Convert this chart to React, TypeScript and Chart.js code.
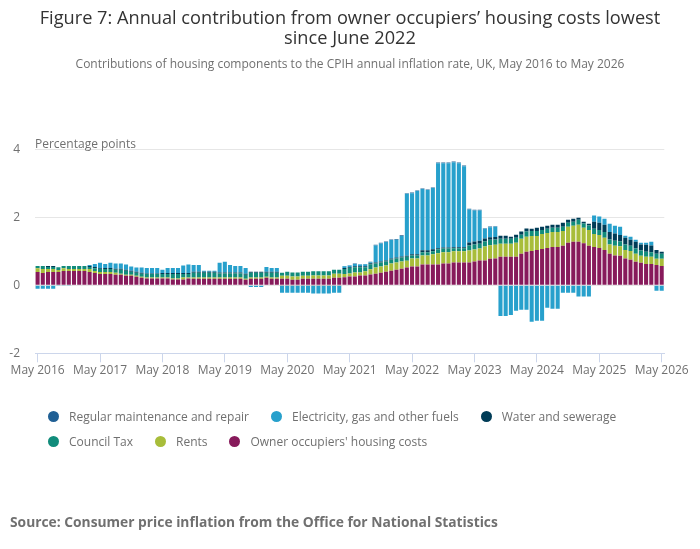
import { useEffect, useRef } from 'react';
import Chart from 'chart.js/auto';

// Months May 2016 to May 2026
const MONTH_NAMES = ['Jan', 'Feb', 'Mar', 'Apr', 'May', 'Jun', 'Jul', 'Aug', 'Sep', 'Oct', 'Nov', 'Dec'];
const START_YEAR = 2016;
const START_MONTH = 4; // May
const MONTH_COUNT = 121;
const CATEGORIES: string[] = [];
for (let i = 0; i < MONTH_COUNT; i++) {
  const m = (START_MONTH + i) % 12;
  const y = START_YEAR + Math.floor((START_MONTH + i) / 12);
  CATEGORIES.push(`${MONTH_NAMES[m]} ${y}`);
}

const Y_TICKS = [-2, 0, 2, 4];

// Contributions, percentage points
const OOH = [
  0.39, 0.36, 0.39, 0.39, 0.39, 0.42, 0.42, 0.42, 0.42, 0.42, 0.39, 0.36,
  0.33, 0.33, 0.33, 0.31, 0.31, 0.28, 0.28, 0.25, 0.22, 0.20, 0.20, 0.20,
  0.20, 0.20, 0.17, 0.17, 0.17, 0.20, 0.19, 0.19, 0.19, 0.19, 0.19, 0.19,
  0.19, 0.19, 0.19, 0.19, 0.16, 0.19, 0.19, 0.19, 0.22, 0.19, 0.19, 0.19,
  0.19, 0.16, 0.16, 0.19, 0.19, 0.19, 0.19, 0.19, 0.19, 0.22, 0.22, 0.24,
  0.26, 0.26, 0.29, 0.29, 0.32, 0.34, 0.37, 0.40, 0.43, 0.46, 0.49, 0.52,
  0.55, 0.55, 0.61, 0.61, 0.61, 0.61, 0.64, 0.64, 0.67, 0.67, 0.67, 0.67,
  0.70, 0.73, 0.73, 0.78, 0.79, 0.84, 0.84, 0.84, 0.84, 0.93, 0.99, 1.01,
  1.04, 1.07, 1.10, 1.13, 1.13, 1.16, 1.25, 1.28, 1.28, 1.24, 1.16, 1.13,
  1.10, 1.04, 0.93, 0.88, 0.87, 0.79, 0.75, 0.69, 0.66, 0.63, 0.63, 0.60,
  0.57
];

const RENTS = [
  0.11, 0.12, 0.09, 0.09, 0.06, 0.08, 0.06, 0.06, 0.06, 0.06, 0.09, 0.06,
  0.06, 0.06, 0.06, 0.06, 0.03, 0.03, 0.03, 0.03, 0.03, 0.03, 0.03, 0.03,
  0.03, 0.03, 0.03, 0.03, 0.06, 0.03, 0.04, 0.04, 0.04, 0.04, 0.04, 0.04,
  0.04, 0.04, 0.04, 0.04, 0.03, 0.04, 0.04, 0.04, 0.03, 0.04, 0.04, 0.09,
  0.09, 0.10, 0.10, 0.09, 0.09, 0.10, 0.10, 0.10, 0.10, 0.12, 0.12, 0.09,
  0.09, 0.12, 0.09, 0.12, 0.15, 0.18, 0.18, 0.18, 0.21, 0.21, 0.21, 0.20,
  0.24, 0.24, 0.27, 0.27, 0.30, 0.33, 0.33, 0.33, 0.33, 0.33, 0.33, 0.35,
  0.35, 0.35, 0.41, 0.40, 0.40, 0.38, 0.38, 0.38, 0.41, 0.44, 0.44, 0.44,
  0.41, 0.44, 0.44, 0.44, 0.44, 0.44, 0.47, 0.47, 0.50, 0.45, 0.47, 0.38,
  0.38, 0.36, 0.27, 0.28, 0.28, 0.25, 0.26, 0.24, 0.21, 0.21, 0.21, 0.18,
  0.21
];

const COUNCIL_TAX = [
  0.07, 0.09, 0.06, 0.06, 0.08, 0.07, 0.09, 0.09, 0.09, 0.09, 0.06, 0.08,
  0.09, 0.09, 0.09, 0.09, 0.12, 0.12, 0.09, 0.09, 0.09, 0.10, 0.10, 0.10,
  0.10, 0.10, 0.13, 0.13, 0.10, 0.10, 0.14, 0.14, 0.14, 0.14, 0.14, 0.12,
  0.12, 0.12, 0.12, 0.12, 0.12, 0.14, 0.14, 0.14, 0.12, 0.14, 0.14, 0.09,
  0.12, 0.12, 0.12, 0.12, 0.12, 0.12, 0.12, 0.12, 0.12, 0.12, 0.12, 0.15,
  0.16, 0.15, 0.15, 0.12, 0.15, 0.12, 0.12, 0.12, 0.12, 0.12, 0.12, 0.12,
  0.09, 0.09, 0.09, 0.09, 0.09, 0.12, 0.11, 0.11, 0.09, 0.09, 0.09, 0.15,
  0.15, 0.14, 0.15, 0.16, 0.16, 0.15, 0.15, 0.15, 0.15, 0.12, 0.15, 0.15,
  0.15, 0.12, 0.12, 0.12, 0.12, 0.12, 0.12, 0.12, 0.15, 0.13, 0.13, 0.15,
  0.15, 0.17, 0.15, 0.15, 0.14, 0.16, 0.15, 0.15, 0.15, 0.15, 0.13, 0.15,
  0.15
];

const WATER = [
  0.00, 0.00, 0.03, 0.03, 0.00, 0.00, 0.00, 0.00, 0.00, 0.00, 0.03, 0.04,
  0.02, 0.03, 0.03, 0.03, 0.03, 0.03, 0.03, 0.03, 0.03, 0.02, 0.02, 0.02,
  0.03, 0.03, 0.03, 0.03, 0.03, 0.03, 0.03, 0.03, 0.03, 0.03, 0.03, 0.03,
  0.03, 0.03, 0.03, 0.03, 0.03, 0.03, 0.03, 0.03, 0.03, 0.03, 0.03, -0.02,
  -0.02, -0.02, -0.02, -0.02, -0.02, -0.02, -0.02, -0.02, -0.02, -0.02, -0.02, 0.03,
  0.02, 0.03, 0.03, 0.03, 0.03, 0.03, 0.03, 0.03, 0.03, 0.03, 0.03, 0.03,
  0.03, 0.03, 0.06, 0.06, 0.06, 0.03, 0.03, 0.03, 0.03, 0.03, 0.03, 0.09,
  0.09, 0.09, 0.09, 0.07, 0.07, 0.09, 0.09, 0.06, 0.09, 0.09, 0.09, 0.06,
  0.09, 0.09, 0.09, 0.09, 0.09, 0.12, 0.09, 0.09, 0.06, 0.05, 0.05, 0.21,
  0.21, 0.21, 0.22, 0.21, 0.19, 0.20, 0.18, 0.20, 0.18, 0.20, 0.20, 0.11,
  0.06
];

const ENERGY = [
  -0.10, -0.10, -0.10, -0.10, -0.02, -0.02, -0.02, 0.00, 0.00, 0.00, 0.03, 0.09,
  0.16, 0.12, 0.15, 0.15, 0.15, 0.15, 0.12, 0.12, 0.15, 0.16, 0.16, 0.16,
  0.10, 0.15, 0.15, 0.15, 0.22, 0.25, 0.20, 0.20, 0.03, 0.03, 0.03, 0.28,
  0.31, 0.22, 0.19, 0.19, 0.17, -0.05, -0.05, -0.05, 0.14, 0.11, 0.11, -0.20,
  -0.20, -0.20, -0.20, -0.20, -0.20, -0.22, -0.22, -0.22, -0.22, -0.20, -0.20, 0.05,
  0.05, 0.07, 0.05, 0.06, 0.03, 0.50, 0.53, 0.54, 0.54, 0.52, 0.60, 1.82,
  1.80, 1.86, 1.80, 1.77, 1.80, 2.50, 2.48, 2.48, 2.50, 2.47, 2.38, 0.97,
  0.91, 0.89, 0.28, 0.30, 0.30, -0.90, -0.90, -0.87, -0.75, -0.72, -0.72, -1.07,
  -1.04, -1.04, -0.66, -0.69, -0.69, -0.22, -0.22, -0.22, -0.33, -0.33, -0.33, 0.18,
  0.18, 0.18, 0.24, 0.23, 0.24, 0.06, 0.09, 0.06, 0.05, 0.06, 0.11, -0.16,
  -0.16
];

const MAINTENANCE = [
  0, 0, 0, 0, 0, 0, 0, 0, 0, 0, 0, 0,
  0, 0, 0, 0, 0, 0, 0, 0, 0, 0, 0, 0,
  0, 0, 0, 0, 0, 0, 0, 0, 0, 0, 0, 0,
  0, 0, 0, 0, 0, 0, 0, 0, 0, 0, 0, 0,
  0, 0, 0, 0, 0, 0, 0, 0, 0, 0, 0, 0.01,
  0.01, 0.01, 0.01, 0.01, 0.01, 0.02, 0.02, 0.02, 0.02, 0.02, 0.02, 0.02,
  0.02, 0.02, 0.02, 0.02, 0.02, 0.02, 0.02, 0.02, 0.02, 0.02, 0.02, 0.02,
  0.02, 0.02, 0.02, 0.02, 0.02, 0, 0, 0, 0, 0, 0, 0,
  0, 0, 0, 0, 0, 0, 0, 0, 0, 0, 0, 0,
  0, 0, 0, 0, 0, 0, 0, 0, 0, 0, 0, 0,
  0
];

// Stack order bottom to top; legend shows them reversed
const SERIES = [
  { label: "Owner occupiers' housing costs", data: OOH, color: '#871A5B' },
  { label: 'Rents', data: RENTS, color: '#A8BD3A' },
  { label: 'Council Tax', data: COUNCIL_TAX, color: '#118C7B' },
  { label: 'Water and sewerage', data: WATER, color: '#003C57' },
  { label: 'Electricity, gas and other fuels', data: ENERGY, color: '#27A0CC' },
  { label: 'Regular maintenance and repair', data: MAINTENANCE, color: '#206095' }
];

const FONT = '"Open Sans", sans-serif';
const TEXT_GREY = '#707070';

const HousingChart = () => {
  const canvasRef = useRef<HTMLCanvasElement>(null);
  const chartRef = useRef<Chart | null>(null);

  useEffect(() => {
    if (!canvasRef.current) return;
    const ctx = canvasRef.current.getContext('2d');
    if (!ctx) return;

    chartRef.current = new Chart(ctx, {
      type: 'bar',
      data: {
        labels: CATEGORIES,
        datasets: SERIES.map(s => ({
          label: s.label,
          data: s.data,
          backgroundColor: s.color,
          borderWidth: 0,
          barPercentage: 0.78,
          categoryPercentage: 1
        }))
      },
      options: {
        animation: false,
        responsive: true,
        maintainAspectRatio: false,
        layout: {
          padding: { top: 149.3, bottom: 165.7, left: 0, right: 35.7 }
        },
        plugins: {
          legend: { display: false },
          title: { display: false },
          tooltip: { enabled: false }
        },
        scales: {
          x: {
            stacked: true,
            offset: true,
            grid: {
              display: true,
              drawOnChartArea: false,
              drawTicks: true,
              tickLength: 9,
              color: '#ccd6eb',
              offset: false
            },
            border: { display: true, color: '#ccd6eb' },
            ticks: {
              autoSkip: false,
              maxRotation: 0,
              minRotation: 0,
              padding: 1,
              color: TEXT_GREY,
              font: { family: FONT, size: 12 },
              callback: (_value, index) => (index % 12 === 0 ? CATEGORIES[index] : null)
            },
            afterFit: (scale: any) => {
              scale.height = 30;
            }
          },
          y: {
            stacked: true,
            min: -2,
            max: 4,
            afterBuildTicks: (scale: any) => {
              scale.ticks = Y_TICKS.map(v => ({ value: v }));
            },
            grid: {
              drawTicks: false,
              color: (c: any) => (c.tick && c.tick.value === -2 ? 'rgba(0,0,0,0)' : '#e6e6e6')
            },
            border: { display: false },
            ticks: {
              padding: 15,
              color: TEXT_GREY,
              font: { family: FONT, size: 12 }
            },
            afterFit: (scale: any) => {
              scale.width = 35;
            }
          }
        }
      }
    });

    return () => {
      if (chartRef.current) {
        chartRef.current.destroy();
        chartRef.current = null;
      }
    };
  }, []);

  return (
    <div style={{ position: 'absolute', left: 0, top: 0, width: 700, height: 549 }}>
      <canvas ref={canvasRef} />
    </div>
  );
};

const App = () => {
  const legendItems = [...SERIES].reverse();
  return (
    <div
      style={{
        position: 'absolute',
        left: 0,
        top: 0,
        width: 700,
        height: 549,
        background: '#fff',
        fontFamily: FONT,
        overflow: 'hidden'
      }}
    >
      <HousingChart />
      <div
        style={{
          position: 'absolute',
          top: 6.8,
          left: 0,
          width: 700,
          textAlign: 'center',
          fontSize: 18.2,
          lineHeight: '20.5px',
          color: '#333'
        }}
      >
        Figure 7: Annual contribution from owner occupiers’ housing costs lowest
        <br />
        since June 2022
      </div>
      <div
        style={{
          position: 'absolute',
          top: 56,
          left: 0,
          width: 700,
          textAlign: 'center',
          fontSize: 12,
          lineHeight: '16px',
          color: TEXT_GREY
        }}
      >
        Contributions of housing components to the CPIH annual inflation rate, UK, May 2016 to May 2026
      </div>
      <div
        style={{
          position: 'absolute',
          top: 137,
          left: 35,
          fontSize: 12,
          lineHeight: '14px',
          color: TEXT_GREY
        }}
      >
        Percentage points
      </div>
      <div
        style={{
          position: 'absolute',
          top: 404,
          left: 48,
          width: 600,
          display: 'flex',
          flexWrap: 'wrap',
          columnGap: 22,
          fontSize: 12,
          color: TEXT_GREY
        }}
      >
        {legendItems.map(s => (
          <div key={s.label} style={{ display: 'flex', alignItems: 'center', height: 25 }}>
            <span
              style={{
                display: 'inline-block',
                width: 11,
                height: 11,
                borderRadius: '50%',
                background: s.color,
                marginRight: 10
              }}
            />
            <span style={{ whiteSpace: 'nowrap' }}>{s.label}</span>
          </div>
        ))}
      </div>
      <div
        style={{
          position: 'absolute',
          top: 514,
          left: 10,
          fontSize: 13.8,
          lineHeight: '16px',
          fontWeight: 'bold',
          color: TEXT_GREY
        }}
      >
        Source: Consumer price inflation from the Office for National Statistics
      </div>
    </div>
  );
};

export default App;
